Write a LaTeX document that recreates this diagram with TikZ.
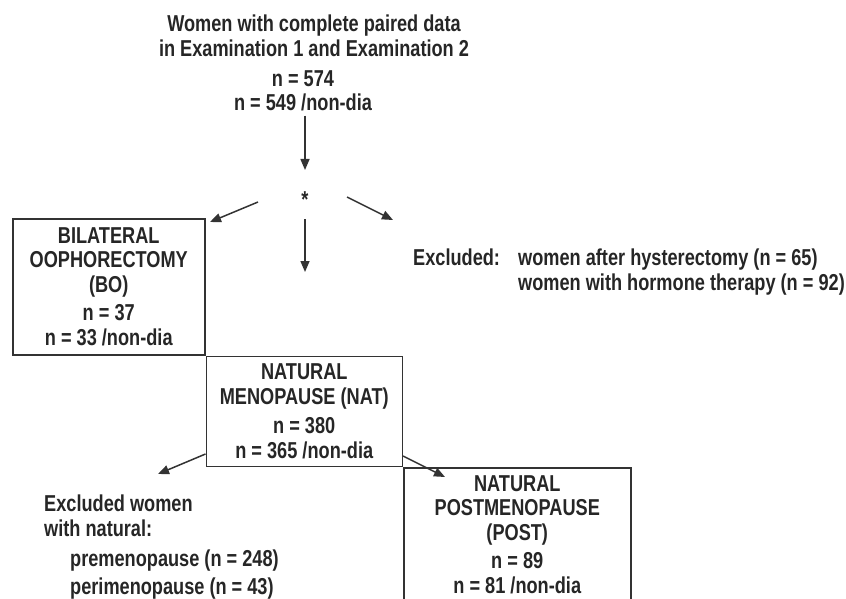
\documentclass[tikz,border=0pt]{standalone}
\usepackage{fontspec}
\setmainfont{Liberation Sans}[FakeStretch=0.79]
\usetikzlibrary{arrows.meta,positioning}

\begin{document}
\begin{tikzpicture}[x=1pt,y=-1pt,
    font=\fontsize{23}{24.5}\selectfont\bfseries,
    every node/.style={text=black!85, inner sep=0pt},
    box/.style={draw=black!80, line width=1.5pt, align=center, anchor=north west},
    arr/.style={draw=black!80, line width=1.5pt, -{Triangle[length=11pt,width=9pt]}}]
  \useasboundingbox (0,0) rectangle (846,599);
  \clip (0,0) rectangle (846,599);

  % all women
  \node[align=center] (total) at (314,36) {Women with complete paired data\\in Examination 1 and Examination 2};
  \node[align=center] (totaln) at (303,91) {n = 574\\n = 549 /non-dia};
  \node (split) at (305,200) {*};

  % groups
  \node[box, minimum width=192pt, minimum height=136pt] (bo) at (12,218)
    {BILATERAL\\OOPHORECTOMY\\(BO)\\[4pt]n = 37\\n = 33 /non-dia};
  \node[box, minimum width=196pt, minimum height=110pt] (nat) at (bo.south east)
    {NATURAL\\MENOPAUSE (NAT)\\[5pt]n = 380\\n = 365 /non-dia};
  \node[box, minimum width=227pt, minimum height=140pt] (post) at (nat.south east) {};
  \node[align=center] (posttext) at ([yshift=3pt]post.center)
    {NATURAL\\POSTMENOPAUSE\\(POST)\\[4pt]n = 89\\n = 81 /non-dia};

  % excluded
  \node[anchor=base west] (exclhead) at (413,265) {Excluded:};
  \node[anchor=base west] (exclhyst) at (518,265) {women after hysterectomy (n = 65)};
  \node[anchor=base west] (exclhorm) at (518,290) {women with hormone therapy (n = 92)};
  \node[anchor=north west, align=left] (exclnat) at (44,495)
    {Excluded women\\with natural:\\[6pt]\hspace*{26pt}premenopause (n = 248)\\[3pt]\hspace*{26pt}perimenopause (n = 43)};

  % arrows
  \coordinate (tiptop) at (305,170);
  \coordinate (tipbo) at (210,222);
  \coordinate (tipexcl) at (393,220);
  \coordinate (tipnat) at (305,272);
  \coordinate (tipexnat) at (158,474);
  \coordinate (tippost) at (445,477);
  \draw[arr, shorten <=4pt] (split |- totaln.south) -- (tiptop);
  \draw[arr] ([shift={(-47,2)}]split.center) -- (tipbo);
  \draw[arr] ([shift={(42,-3)}]split.center) -- (tipexcl);
  \draw[arr] ([shift={(0,19)}]split.center) -- (tipnat);
  \draw[arr] ([yshift=13pt]nat.south west) -- (tipexnat);
  \draw[arr] ([yshift=11pt]nat.south east) -- (tippost);
\end{tikzpicture}
\end{document}
